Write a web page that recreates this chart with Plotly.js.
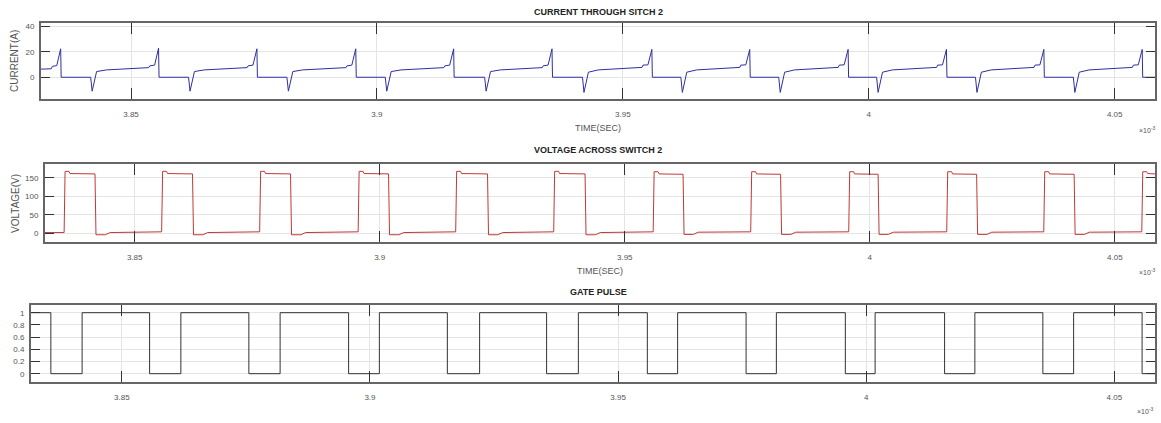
<!DOCTYPE html>
<html>
<head>
<meta charset="utf-8">
<script src="https://cdn.plot.ly/plotly-3.0.1.min.js"></script>
<style>html,body{margin:0;padding:0;background:#fff;}#chart{width:1161px;height:423px;}</style>
</head>
<body>
<div id="chart"></div>
<script>
// Time values in units of 1e-3 s (axis shows "x10^-3")
var currentTime = [
  3.8317, 3.8338, 3.8340, 3.8349, 3.8357, 3.8358,
  3.8418, 3.8421, 3.8430, 3.8450, 3.8536, 3.8538, 3.8548, 3.8556, 3.8557,
  3.8617, 3.8620, 3.8629, 3.8649, 3.8736, 3.8738, 3.8748, 3.8756, 3.8757,
  3.8817, 3.8820, 3.8829, 3.8849, 3.8937, 3.8939, 3.8949, 3.8957, 3.8958,
  3.9017, 3.9020, 3.9029, 3.9049, 3.9136, 3.9138, 3.9148, 3.9156, 3.9157,
  3.9219, 3.9222, 3.9231, 3.9251, 3.9336, 3.9338, 3.9348, 3.9356, 3.9357,
  3.9418, 3.9421, 3.9430, 3.9450, 3.9539, 3.9541, 3.9551, 3.9559, 3.9560,
  3.9618, 3.9621, 3.9630, 3.9650, 3.9738, 3.9740, 3.9750, 3.9758, 3.9759,
  3.9817, 3.9820, 3.9829, 3.9849, 3.9938, 3.9940, 3.9950, 3.9958, 3.9959,
  4.0016, 4.0019, 4.0028, 4.0048, 4.0138, 4.0140, 4.0150, 4.0158, 4.0159,
  4.0217, 4.0220, 4.0229, 4.0249, 4.0336, 4.0338, 4.0348, 4.0356, 4.0357,
  4.0416, 4.0419, 4.0428, 4.0448, 4.0536, 4.0538, 4.0548, 4.0556, 4.0557,
  4.0582
];
var currentAmps = [
  6.4, 6.7, 8.6, 9.2, 22.5, 0,
  0, -11, 4.5, 5.8, 7.6, 9.0, 9.6, 23.0, 0,
  0, -11, 4.5, 5.8, 7.6, 9.0, 9.6, 22.5, 0,
  0, -11, 4.5, 5.8, 7.6, 9.0, 9.6, 22.5, 0,
  0, -11, 4.5, 5.8, 7.6, 9.0, 9.6, 22.5, 0,
  0, -11, 4.5, 5.8, 7.6, 9.0, 9.6, 22.5, 0,
  0, -12, 4.0, 5.8, 7.8, 9.6, 9.8, 22.0, 0,
  0, -12, 4.0, 5.8, 7.8, 9.6, 9.8, 22.0, 0,
  0, -12, 4.0, 5.8, 7.8, 9.6, 9.8, 22.0, 0,
  0, -12, 4.0, 5.8, 7.8, 9.6, 9.8, 22.0, 0,
  0, -12, 4.0, 5.8, 7.8, 9.6, 9.8, 22.0, 0,
  0, -12, 4.0, 5.8, 7.8, 9.6, 9.8, 22.0, 0,
  0
];

var voltageTime = [
  3.8317, 3.8356,
  3.8358, 3.8366, 3.8368, 3.8419, 3.8421, 3.8440, 3.8450, 3.8555,
  3.8557, 3.8565, 3.8567, 3.8618, 3.8620, 3.8639, 3.8649, 3.8755,
  3.8757, 3.8765, 3.8767, 3.8818, 3.8820, 3.8839, 3.8849, 3.8956,
  3.8958, 3.8966, 3.8968, 3.9018, 3.9020, 3.9039, 3.9049, 3.9155,
  3.9157, 3.9165, 3.9167, 3.9220, 3.9222, 3.9241, 3.9251, 3.9355,
  3.9357, 3.9365, 3.9367, 3.9419, 3.9421, 3.9440, 3.9450, 3.9558,
  3.9560, 3.9568, 3.9570, 3.9619, 3.9621, 3.9640, 3.9650, 3.9757,
  3.9759, 3.9767, 3.9769, 3.9818, 3.9820, 3.9839, 3.9849, 3.9957,
  3.9959, 3.9967, 3.9969, 4.0017, 4.0019, 4.0038, 4.0048, 4.0157,
  4.0159, 4.0167, 4.0169, 4.0218, 4.0220, 4.0239, 4.0249, 4.0355,
  4.0357, 4.0365, 4.0367, 4.0417, 4.0419, 4.0438, 4.0448, 4.0555,
  4.0557, 4.0565, 4.0567, 4.0582
];
var voltageVolts = [
  2, 2,
  168, 168, 162, 161, -4, -4, 2, 4,
  168, 168, 162, 161, -4, -4, 2, 4,
  168, 168, 162, 161, -4, -4, 2, 4,
  168, 168, 162, 161, -4, -4, 2, 4,
  168, 168, 162, 161, -4, -4, 2, 4,
  168, 168, 162, 161, -4, -4, 2, 4,
  167, 167, 161, 160, -3, -3, 3, 4,
  167, 167, 161, 160, -3, -3, 3, 4,
  167, 167, 161, 160, -3, -3, 3, 4,
  167, 167, 161, 160, -3, -3, 3, 4,
  167, 167, 161, 160, -3, -3, 3, 4,
  167, 167, 162, 161
];

// Gate pulse edge times (value holds until next point)
var gateTime = [
  3.8317, 3.8357, 3.8420, 3.8556, 3.8619, 3.8756, 3.8819, 3.8957, 3.9019,
  3.9156, 3.9221, 3.9356, 3.9420, 3.9559, 3.9620, 3.9758, 3.9819, 3.9958,
  4.0018, 4.0158, 4.0219, 4.0356, 4.0418, 4.0556, 4.0582
];
var gateLevel = [
  1, 0, 1, 0, 1, 0, 1, 0, 1,
  0, 1, 0, 1, 0, 1, 0, 1, 0,
  1, 0, 1, 0, 1, 0, 0
];

var xTickVals = [3.85, 3.9, 3.95, 4, 4.05];
var xTickText = ['3.85', '3.9', '3.95', '4', '4.05'];
var curTicks = [0, 20, 40];
var voltTicks = [0, 50, 100, 150];
var gateTicks = [0, 0.2, 0.4, 0.6, 0.8, 1];
var gateTickText = ['0', '0.2', '0.4', '0.6', '0.8', '1'];

var W = 1161, H = 423;
function px(x){ return x / W; }
function py(y){ return 1 - y / H; }

var xr = [3.8317, 4.0582];
var tickFont = {family: 'Liberation Sans, Arial, sans-serif', size: 8, color: '#555'};

function xa(l, anchor){
  return {
    domain: [px(l), px(1155)], range: xr, anchor: anchor,
    tickmode: 'array', tickvals: xTickVals, ticktext: xTickText,
    ticks: 'inside', ticklen: 11, tickwidth: 1, tickcolor: '#333',
    mirror: 'allticks', showline: true, linecolor: '#666', linewidth: 2,
    showgrid: true, gridcolor: '#e4e4e4', gridwidth: 1, zeroline: false,
    tickfont: tickFont, ticklabelstandoff: 6, fixedrange: true
  };
}
function ya(b, t, r, vals, text, anchor){
  var o = {
    domain: [py(b), py(t)], range: r, anchor: anchor,
    tickmode: 'array', tickvals: vals,
    ticks: 'inside', ticklen: 9, tickwidth: 1, tickcolor: '#333',
    mirror: 'allticks', showline: true, linecolor: '#666', linewidth: 2,
    showgrid: true, gridcolor: '#e4e4e4', gridwidth: 1, zeroline: false,
    tickfont: tickFont, ticklabelstandoff: 3, fixedrange: true
  };
  if (text) o.ticktext = text;
  return o;
}

var data = [
  {x: currentTime, y: currentAmps, type: 'scatter', mode: 'lines', xaxis: 'x', yaxis: 'y',
   line: {color: '#2f2fa0', width: 1}, hoverinfo: 'skip'},
  {x: voltageTime, y: voltageVolts, type: 'scatter', mode: 'lines', xaxis: 'x2', yaxis: 'y2',
   line: {color: '#c03838', width: 1}, hoverinfo: 'skip'},
  {x: gateTime, y: gateLevel, type: 'scatter', mode: 'lines', xaxis: 'x3', yaxis: 'y3',
   line: {color: '#333333', width: 1, shape: 'hv'}, hoverinfo: 'skip'}
];

var titleFont = {family: 'Liberation Sans, Arial, sans-serif', size: 9, color: '#222'};
var labFont = {family: 'Liberation Sans, Arial, sans-serif', size: 9, color: '#555'};
function ann(text, x, y, font, angle){
  return {text: text, x: px(x), y: py(y), xref: 'paper', yref: 'paper',
          xanchor: 'center', yanchor: 'middle', showarrow: false, font: font,
          textangle: angle || 0};
}

var layout = {
  width: W, height: H,
  margin: {l: 0, r: 0, t: 0, b: 0},
  paper_bgcolor: '#fff', plot_bgcolor: '#fff',
  showlegend: false,
  xaxis: xa(41, 'y'),
  yaxis: ya(99, 23, [-17.2, 42.9], curTicks, null, 'x'),
  xaxis2: xa(45, 'y2'),
  yaxis2: ya(242, 164, [-23.6, 187.9], voltTicks, null, 'x2'),
  xaxis3: xa(31, 'y3'),
  yaxis3: ya(382, 305, [-0.136, 1.126], gateTicks, gateTickText, 'x3'),
  annotations: [
    ann('<b>CURRENT THROUGH SITCH 2</b>', 598, 12, titleFont),
    ann('<b>VOLTAGE ACROSS SWITCH 2</b>', 598, 150, titleFont),
    ann('<b>GATE PULSE</b>', 598, 292, titleFont),
    ann('CURRENT(A)', 15, 61, {family: 'Liberation Sans, Arial, sans-serif', size: 10, color: '#555'}, -90),
    ann('VOLTAGE(V)', 15, 204, {family: 'Liberation Sans, Arial, sans-serif', size: 10, color: '#555'}, -90),
    ann('TIME(SEC)', 598, 128, labFont),
    ann('TIME(SEC)', 600, 271, labFont),
    ann('\u00d710<sup>-3</sup>', 1147, 130, {family: 'Liberation Sans, Arial, sans-serif', size: 7, color: '#555'}),
    ann('\u00d710<sup>-3</sup>', 1147, 272, {family: 'Liberation Sans, Arial, sans-serif', size: 7, color: '#555'}),
    ann('\u00d710<sup>-3</sup>', 1145, 411, {family: 'Liberation Sans, Arial, sans-serif', size: 7, color: '#555'})
  ]
};

Plotly.newPlot('chart', data, layout, {staticPlot: true, displayModeBar: false});
</script>
</body>
</html>
